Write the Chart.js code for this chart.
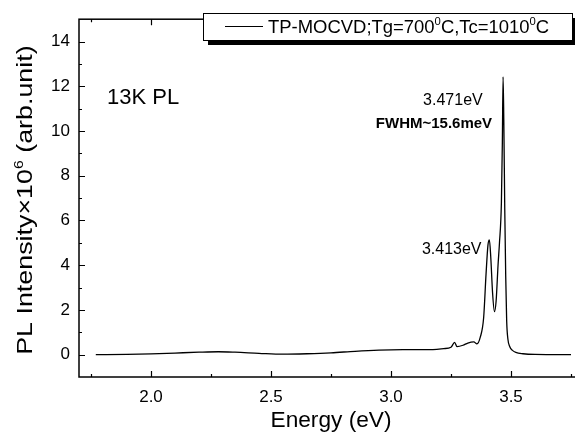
<!DOCTYPE html>
<html>
<head>
<meta charset="utf-8">
<script src="https://cdn.jsdelivr.net/npm/chart.js@4/dist/chart.umd.min.js"></script>
<style>
  html, body { margin: 0; padding: 0; background: #fff; }
  #wrap { width: 575px; height: 435px; overflow: hidden; position: relative; }
  canvas { display: block; }
</style>
</head>
<body>
<div id="wrap"><canvas id="c" width="600" height="435"></canvas></div>
<script>
// ---- data ----
const energy = [1.77, 1.90, 2.00, 2.10, 2.20, 2.28, 2.35, 2.45, 2.55, 2.65, 2.75, 2.85, 2.95, 3.05, 3.15, 3.22, 3.25, 3.265, 3.275, 3.30, 3.32, 3.345, 3.358, 3.372, 3.386, 3.396, 3.404, 3.410, 3.416, 3.423, 3.431, 3.438, 3.446, 3.452, 3.460, 3.464, 3.467, 3.470, 3.474, 3.478, 3.482, 3.487, 3.495, 3.505, 3.52, 3.55, 3.60, 3.75];
const intensity = [0.00, 0.01, 0.03, 0.07, 0.11, 0.13, 0.11, 0.06, 0.02, 0.04, 0.08, 0.15, 0.20, 0.22, 0.22, 0.27, 0.33, 0.55, 0.36, 0.42, 0.52, 0.57, 0.48, 0.78, 1.65, 3.6, 4.9, 5.13, 4.3, 2.8, 1.92, 2.4, 4.0, 5.0, 6.8, 9.5, 12.42, 10.5, 6.5, 3.5, 1.5, 0.7, 0.35, 0.2, 0.1, 0.04, 0.01, 0.00];

const xTickValues = [2.0, 2.5, 3.0, 3.5];
const xMinorTicks = [1.75, 2.25, 2.75, 3.25, 3.75];
const yTickValues = [0, 2, 4, 6, 8, 10, 12, 14];
const yMinorTicks = [1, 3, 5, 7, 9, 11, 13];

const seriesName = [{t: 'TP-MOCVD;Tg=700'}, {t: '0', sup: true}, {t: 'C,Tc=1010'}, {t: '0', sup: true}, {t: 'C'}];
const xTitle = [{t: 'Energy (eV)'}];
const yTitle = [{t: 'PL Intensity\u00d710'}, {t: '6', sup: true}, {t: ' (arb.unit)'}];

const annoTexts = ['13K PL', '3.471eV', 'FWHM~15.6meV', '3.413eV'];
const annoX = [1.817, 3.258, 3.179, 3.253];
const annoY = [11.22, 11.15, 10.14, 4.52];

const FONT = '"Liberation Sans", Arial, Helvetica, sans-serif';

function drawRich(ctx, segs, x, y, size, weight, align, stretch, rot) {
  ctx.save();
  ctx.translate(x, y);
  if (rot) ctx.rotate(rot);
  ctx.scale(stretch || 1, 1);
  ctx.textBaseline = 'alphabetic';
  ctx.textAlign = 'left';
  let total = 0;
  const widths = segs.map(s => {
    ctx.font = (weight || 'normal') + ' ' + (s.sup ? Math.round(size * 0.6) : size) + 'px ' + FONT;
    const w = ctx.measureText(s.t).width;
    total += w;
    return w;
  });
  let cx = align === 'center' ? -total / 2 : (align === 'right' ? -total : 0);
  ctx.fillStyle = '#000';
  segs.forEach((s, i) => {
    ctx.font = (weight || 'normal') + ' ' + (s.sup ? Math.round(size * 0.6) : size) + 'px ' + FONT;
    ctx.fillText(s.t, cx, s.sup ? -size * 0.42 : 0);
    cx += widths[i];
  });
  ctx.restore();
}

const framePlugin = {
  id: 'frame',
  afterDraw(chart) {
    const ctx = chart.ctx;
    const a = chart.chartArea;
    const xs = chart.scales.x, ys = chart.scales.y;
    ctx.save();
    ctx.strokeStyle = '#000';
    ctx.lineWidth = 1.5;
    ctx.strokeRect(a.left, a.top, a.right - a.left, a.bottom - a.top);
    ctx.lineWidth = 1.2;
    ctx.beginPath();
    const tk = (list, len) => {
      list.forEach(v => {
        const px = Math.round(xs.getPixelForValue(v)) + 0.5;
        ctx.moveTo(px, a.bottom); ctx.lineTo(px, a.bottom - len);
        ctx.moveTo(px, a.top); ctx.lineTo(px, a.top + len);
      });
    };
    tk(xTickValues, 6); tk(xMinorTicks, 3);
    const tky = (list, len) => {
      list.forEach(v => {
        const py = Math.round(ys.getPixelForValue(v)) + 0.5;
        ctx.moveTo(a.left, py); ctx.lineTo(a.left + len, py);
        ctx.moveTo(a.right, py); ctx.lineTo(a.right - len, py);
      });
    };
    tky(yTickValues, 6); tky(yMinorTicks, 3);
    ctx.stroke();

    // axis titles
    drawRich(ctx, xTitle, (a.left + a.right) / 2, 427, 22, 'normal', 'center', 1.03, 0);
    drawRich(ctx, yTitle, 32, (a.top + a.bottom) / 2 + 2, 22, 'normal', 'center', 1.22, -Math.PI / 2);

    // annotations
    const sizes = [22, 16, 15, 16];
    const weights = ['normal', 'normal', 'bold', 'normal'];
    annoTexts.forEach((t, i) => {
      drawRich(ctx, [{t}], xs.getPixelForValue(annoX[i]), ys.getPixelForValue(annoY[i]),
        sizes[i], weights[i], i === 0 ? 'left' : 'center', 1, 0);
    });

    // legend box with shadow
    const L = 203, T = 13, W = 369, H = 27;
    ctx.fillStyle = '#000';
    ctx.fillRect(L + 5, T + 5, W, H);
    ctx.fillStyle = '#fff';
    ctx.fillRect(L, T, W, H);
    ctx.lineWidth = 1;
    ctx.strokeStyle = '#000';
    ctx.strokeRect(L + 0.5, T + 0.5, W, H);
    ctx.lineWidth = 1.2;
    ctx.beginPath();
    ctx.moveTo(225, 26.5); ctx.lineTo(263, 26.5);
    ctx.stroke();
    drawRich(ctx, seriesName, 268, 33, 18, 'normal', 'left', 1.025, 0);
    ctx.restore();
  }
};

const chart = new Chart(document.getElementById('c'), {
  type: 'line',
  data: {
    datasets: [{
      label: 'TP-MOCVD;Tg=700\u2070C,Tc=1010\u2070C',
      data: energy.map((e, i) => ({x: e, y: intensity[i]})),
      borderColor: '#000',
      borderWidth: 1.3,
      pointRadius: 0,
      fill: false,
      cubicInterpolationMode: 'monotone'
    }]
  },
  options: {
    responsive: false,
    animation: false,
    devicePixelRatio: 1,
    layout: { padding: { left: 0, top: 9, right: 17, bottom: 0 } },
    plugins: { legend: { display: false }, tooltip: { enabled: false } },
    scales: {
      x: {
        type: 'linear',
        min: 1.7, max: 3.8,
        afterBuildTicks: s => { s.ticks = xTickValues.map(v => ({value: v})); },
        afterFit: s => { s.height = 58; },
        grid: { display: false, drawTicks: false },
        border: { display: false },
        ticks: {
          color: '#000', padding: 10,
          font: { family: FONT, size: 17 },
          callback: v => Number(v).toFixed(1),
          maxRotation: 0
        }
      },
      y: {
        type: 'linear',
        min: -1, max: 15,
        afterBuildTicks: s => { s.ticks = yTickValues.map(v => ({value: v})); },
        afterFit: s => { s.width = 79; },
        grid: { display: false, drawTicks: false },
        border: { display: false },
        ticks: {
          color: '#000', padding: 9,
          font: { family: FONT, size: 17 },
          callback: v => String(v)
        }
      }
    }
  },
  plugins: [framePlugin]
});
</script>
</body>
</html>
